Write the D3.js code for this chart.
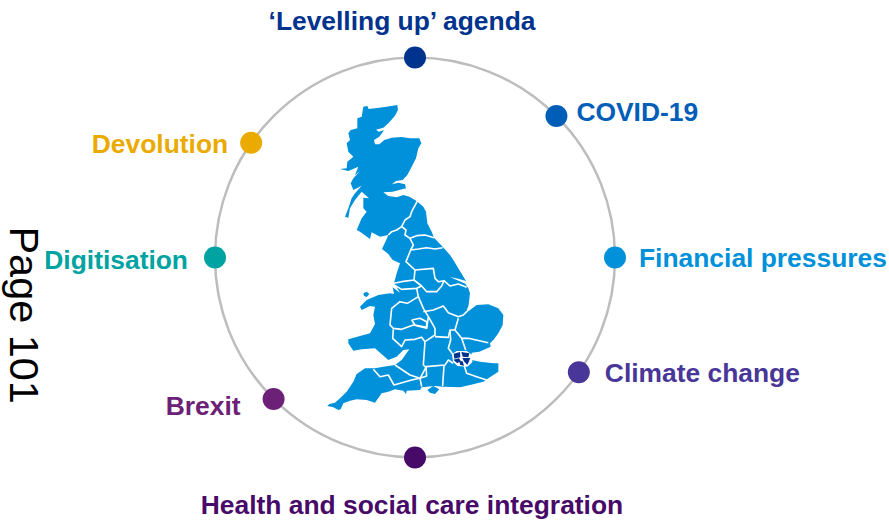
<!DOCTYPE html>
<html>
<head>
<meta charset="utf-8">
<script src="https://cdn.jsdelivr.net/npm/d3@7"></script>
<style>
  html, body { margin: 0; padding: 0; background: #fff; }
  svg { display: block; }
  text { font-family: "Liberation Sans", Arial, sans-serif; }
</style>
</head>
<body>
<div id="chart"></div>
<script>
// Pressures around the ring (angle clockwise from the top, degrees)
const labels = ["\u2018Levelling up\u2019 agenda", "COVID-19", "Financial pressures", "Climate change",
    "Health and social care integration", "Brexit", "Digitisation", "Devolution"];
const angles = [0, 45, 90, 125, 180, 225, 270, 305];
const colors = ["#00338D", "#005EB8", "#0091DA", "#483698", "#470A68", "#6D2077", "#00A3A1", "#EAAA00"];
const labelOffsets = [[-13, -36], [20, -3], [24, 1], [26, 2], [-3, 48], [-33, 8], [-27, 3], [-23, 2]];
const labelAnchors = ["middle", "start", "start", "start", "middle", "end", "end", "end"];

// Map outlines, in units (3 units = 1px)
const mainland = [[130,35],[142,33],[146,42],[165,40],[200,35],[232,30],[234,45],[225,62],[205,85],[190,98],[168,104],[176,110],[192,106],[178,125],[162,135],[165,148],[178,148],[193,135],[215,128],[245,126],[270,130],[298,130],[304,145],[295,160],[288,190],[275,215],[262,240],[248,255],[228,258],[216,268],[235,263],[255,268],[258,280],[240,284],[218,290],[190,292],[205,303],[230,307],[250,300],[268,305],[290,318],[310,335],[318,350],[322,385],[335,410],[342,428],[368,455],[390,480],[400,495],[418,525],[438,558],[415,551],[390,546],[412,556],[436,566],[445,580],[450,595],[446,630],[437,655],[450,645],[470,630],[505,628],[535,640],[550,660],[548,690],[535,715],[520,735],[510,745],[512,755],[490,765],[478,770],[455,773],[455,795],[480,800],[520,805],[535,805],[535,830],[505,850],[490,860],[450,870],[420,877],[370,875],[345,873],[320,875],[305,877],[300,885],[260,887],[258,897],[250,887],[225,883],[205,890],[185,895],[165,923],[140,915],[110,913],[90,917],[70,925],[62,943],[55,945],[40,937],[22,933],[28,927],[45,923],[60,910],[80,890],[100,860],[110,837],[135,820],[165,820],[190,815],[225,810],[245,795],[268,763],[250,765],[230,785],[205,795],[180,773],[165,760],[125,763],[100,767],[85,745],[85,733],[120,723],[150,715],[165,687],[160,660],[165,635],[150,633],[125,645],[120,635],[140,615],[175,600],[210,595],[222,597],[218,577],[240,593],[222,565],[230,535],[240,505],[218,495],[205,477],[186,462],[200,432],[205,420],[180,425],[155,412],[150,432],[120,410],[110,405],[125,370],[140,350],[130,340],[130,308],[147,310],[125,290],[105,315],[90,340],[85,368],[75,365],[85,340],[95,310],[105,295],[125,272],[100,285],[92,265],[100,250],[120,228],[105,240],[115,215],[85,228],[60,222],[80,220],[82,200],[100,185],[85,170],[80,145],[90,135],[85,115],[92,105],[112,100],[112,70],[125,65]];
const anglesey = [[130,595],[140,590],[148,597],[140,606],[132,603]];
const wight = [[322,885],[340,873],[358,883],[345,897],[330,893]];
const borders = [
    [[292,318],[275,350],[270,365],[255,375],[245,395],[230,405],[215,410],[205,420]],
    [[245,395],[258,405],[255,420],[270,430],[280,450],[272,465],[258,500],[285,525],[282,555],[245,560],[222,565]],
    [[270,430],[290,422],[315,420],[342,428]],
    [[272,465],[295,462],[320,458],[345,462],[368,458]],
    [[285,525],[340,520],[345,550],[355,560],[372,557],[365,573],[350,590],[320,590],[305,573],[282,555]],
    [[222,570],[245,583],[290,580],[305,573]],
    [[372,557],[390,573],[415,567],[440,577]],
    [[290,580],[295,605],[262,625],[240,620],[215,640],[210,690],[220,700],[245,703],[280,690],[320,700],[325,665],[310,640],[295,605]],
    [[275,675],[300,670],[320,680],[320,697],[285,690],[275,675]],
    [[310,650],[340,645],[370,633],[385,653],[415,665],[430,660],[440,650]],
    [[325,665],[345,700],[345,720],[315,740],[310,810],[318,817],[300,850],[270,840],[225,810]],
    [[220,703],[218,730],[245,755],[255,735],[285,733],[305,727],[315,740]],
    [[345,725],[385,727],[390,705],[405,705],[415,670]],
    [[405,705],[425,730],[445,730],[505,743]],
    [[390,705],[392,735],[385,760],[400,780]],
    [[425,730],[437,765]],
    [[318,815],[375,810],[385,795],[400,805]],
    [[372,810],[368,873]],
    [[318,815],[320,843],[300,850],[305,875]],
    [[432,810],[440,835],[470,845],[500,855]],
    [[160,823],[180,845],[205,840],[222,870],[275,855],[300,850]]
];
// London: white ground and the dark boroughs on it
const londonGround = [[396,778],[410,768],[440,768],[457,780],[457,802],[442,815],[412,813],[399,800]];
const londonPatches = [
    [[401,776],[420,771],[421,787],[403,791]],
    [[424,771],[448,775],[445,787],[428,785]],
    [[400,794],[417,790],[422,797],[412,805]],
    [[427,789],[451,789],[442,810],[432,799]],
    [[417,798],[428,799],[432,812],[421,810]]
];

const width = 889, height = 521;
const svg = d3.select("#chart").append("svg").attr("width", width).attr("height", height);

// Map scales
const mapX = d3.scaleLinear().domain([0, 570]).range([320, 510]);
const mapY = d3.scaleLinear().domain([0, 1005]).range([95, 430]);
const mapLine = d3.line().x(d => mapX(d[0])).y(d => mapY(d[1]));

const map = svg.append("g");
map.selectAll(".land")
    .data([mainland, anglesey, wight])
    .enter()
    .append("path")
    .attr("class", "land")
    .attr("d", d => mapLine(d) + "Z")
    .attr("fill", "#0091DA");

map.selectAll(".border")
    .data(borders)
    .enter()
    .append("path")
    .attr("class", "border")
    .attr("d", mapLine)
    .attr("fill", "none")
    .attr("stroke", "#fff")
    .attr("stroke-width", 1.6)
    .attr("stroke-linejoin", "round");

map.append("path")
    .attr("d", mapLine(londonGround) + "Z")
    .attr("fill", "#fff");

map.selectAll(".london")
    .data(londonPatches)
    .enter()
    .append("path")
    .attr("class", "london")
    .attr("d", d => mapLine(d) + "Z")
    .attr("fill", "#00338D");

// Ring
const cx = 415, cy = 257.5, ringR = 200;
svg.append("circle")
    .attr("cx", cx)
    .attr("cy", cy)
    .attr("r", ringR)
    .attr("fill", "none")
    .attr("stroke", "#BDBDBD")
    .attr("stroke-width", 2.5);

const angle = d3.scaleLinear().domain([0, 360]).range([0, 2 * Math.PI]);
const point = (i) => {
    const p = d3.pointRadial(angle(angles[i]), ringR);
    return [cx + p[0], cy + p[1]];
};

svg.selectAll(".dot")
    .data(labels)
    .enter()
    .append("circle")
    .attr("class", "dot")
    .attr("cx", (d, i) => point(i)[0])
    .attr("cy", (d, i) => point(i)[1])
    .attr("r", 11)
    .attr("fill", (d, i) => colors[i]);

svg.selectAll(".label")
    .data(labels)
    .enter()
    .append("text")
    .attr("class", "label")
    .attr("x", (d, i) => point(i)[0] + labelOffsets[i][0])
    .attr("y", (d, i) => point(i)[1] + labelOffsets[i][1] + 8)
    .attr("text-anchor", (d, i) => labelAnchors[i])
    .attr("fill", (d, i) => colors[i])
    .style("font-size", "26.4px")
    .style("font-weight", "bold")
    .text(d => d);

// Page stamp running down the left edge
svg.append("text")
    .attr("transform", "translate(10,226.5) rotate(90)")
    .attr("fill", "#000")
    .style("font-size", "41.4px")
    .text("Page 101");
</script>
</body>
</html>
